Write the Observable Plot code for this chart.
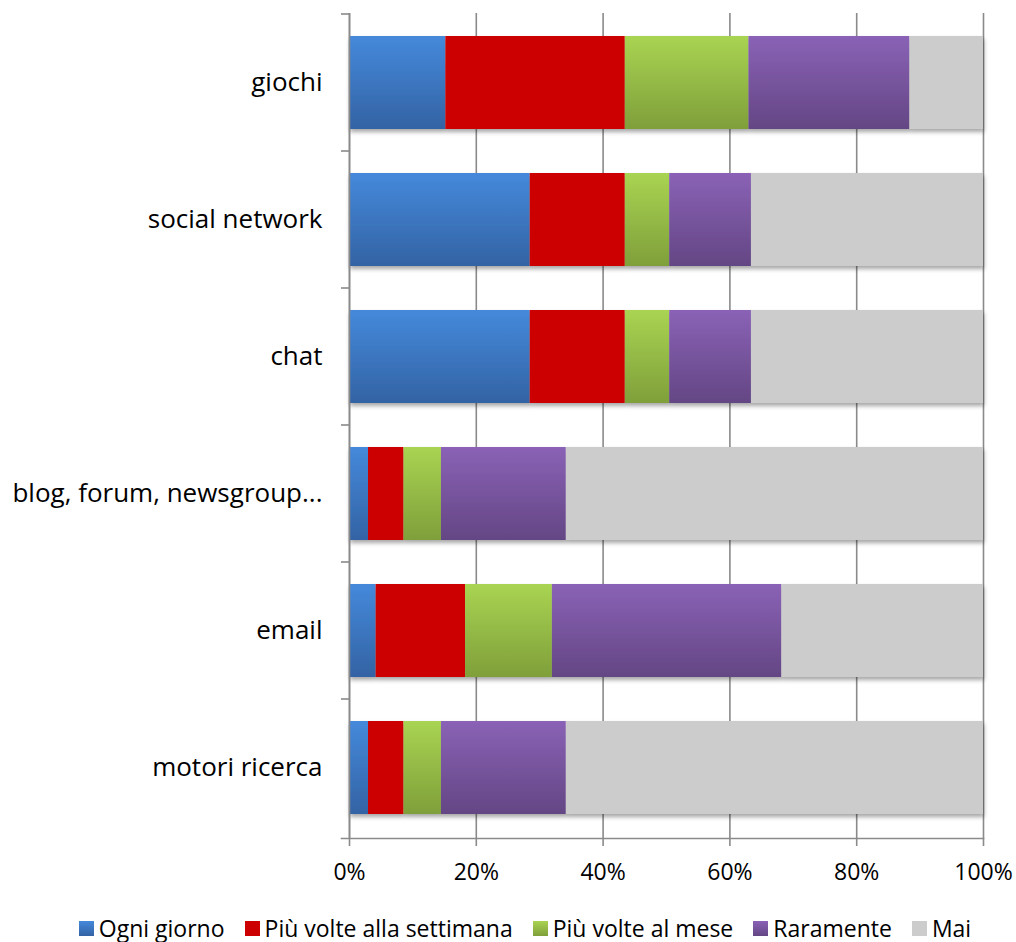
<!DOCTYPE html>
<html>
<head>
<meta charset="utf-8">
<script src="https://cdn.jsdelivr.net/npm/d3@7"></script>
<script src="https://cdn.jsdelivr.net/npm/@observablehq/plot@0.6"></script>
<style>
  html, body { margin: 0; padding: 0; background: #fff; overflow: hidden; }
  body { width: 1016px; height: 942px; font-family: "Open Sans", sans-serif; }
  #legend { display: flex; justify-content: center; align-items: center; height: 30px; margin-top: 8px; padding-left: 34px; font-size: 23px; color: #000; }
  .item { display: flex; align-items: center; margin-right: 20px; white-space: nowrap; }
  .item:last-child { margin-right: 0; }
  .sw { width: 15px; height: 15px; margin-right: 5px; }
</style>
</head>
<body>
<div id="chart"></div>
<div id="legend"></div>
<script>
const categories = ["giochi", "social network", "chat", "blog, forum, newsgroup...", "email", "motori ricerca"];
const series = ["Ogni giorno", "Più volte alla settimana", "Più volte al mese", "Raramente", "Mai"];
const ogniGiorno        = [15.2, 28.5, 28.5,  3.0,  4.2,  3.0];
const piuVolteSettimana = [28.3, 15.0, 15.0,  5.6, 14.1,  5.6];
const piuVolteMese      = [19.5,  7.0,  7.0,  5.9, 13.7,  5.9];
const raramente         = [25.4, 12.9, 12.9, 19.7, 36.2, 19.7];
const mai               = [11.6, 36.6, 36.6, 65.8, 31.8, 65.8];
const xTicks = [0, 20, 40, 60, 80, 100];

const seriesValues = [ogniGiorno, piuVolteSettimana, piuVolteMese, raramente, mai];
const rows = [];
categories.forEach((c, i) => {
  series.forEach((s, j) => rows.push({category: c, series: s, value: seriesValues[j][i]}));
});

const gradients = [
  {id: "g-blue", top: "#4589db", bottom: "#3363a4"},
  {id: "g-green", top: "#a9d452", bottom: "#7f9f3a"},
  {id: "g-purple", top: "#8a62b6", bottom: "#644684"}
];
const fills = ["url(#g-blue)", "#cc0000", "url(#g-green)", "url(#g-purple)", "#cccccc"];
const legendFills = [
  "linear-gradient(#4589db, #3363a4)", "#cc0000",
  "linear-gradient(#a9d452, #7f9f3a)", "linear-gradient(#8a62b6, #644684)", "#cccccc"
];

const axisGray = "#8a8a8a";
const marginLeft = 349;

const plot = Plot.plot({
  width: 1016,
  height: 905,
  marginTop: 13,
  marginBottom: 67,
  marginLeft: marginLeft,
  marginRight: 33,
  style: {fontFamily: "Open Sans, sans-serif", color: "#000", background: "#fff"},
  x: {domain: [0, 100], label: null},
  y: {domain: categories, paddingInner: 0.32, paddingOuter: 0.16, label: null},
  color: {domain: series, range: fills},
  marks: [
    Plot.gridX(xTicks, {stroke: axisGray, strokeOpacity: 1, strokeWidth: 1.6}),
    Plot.barX(rows, Plot.stackX({x: "value", y: "category", fill: "series"})),
    Plot.ruleX([0], {stroke: axisGray, strokeWidth: 1.6}),
    Plot.frame({anchor: "bottom", stroke: axisGray, strokeWidth: 1.6, insetLeft: -8}),
    Plot.axisX(xTicks, {tickFormat: d => d + "%", tickSize: 8, tickPadding: 17, fontSize: 23, stroke: axisGray, strokeWidth: 1.6, label: null}),
    Plot.axisY({tickSize: 0, tickPadding: 27, fontSize: 26, label: null})
  ]
});

const svg = d3.select(plot);
const defs = svg.insert("defs", ":first-child");
gradients.forEach(g => {
  const lg = defs.append("linearGradient").attr("id", g.id)
    .attr("x1", 0).attr("y1", 0).attr("x2", 0).attr("y2", 1);
  lg.append("stop").attr("offset", "0%").attr("stop-color", g.top);
  lg.append("stop").attr("offset", "100%").attr("stop-color", g.bottom);
});
const f = defs.append("filter").attr("id", "shadow")
  .attr("x", "-5%").attr("y", "-5%").attr("width", "115%").attr("height", "125%");
f.append("feDropShadow").attr("dx", 1).attr("dy", 3).attr("stdDeviation", 2.2)
  .attr("flood-color", "#000").attr("flood-opacity", 0.35);
svg.selectAll('g[aria-label="bar"]').attr("filter", "url(#shadow)");

// y-axis boundary ticks derived from the band scale (bottom one is the x-axis line)
const ys = plot.scale("y");
const gap = ys.step - ys.bandwidth;
const bounds = categories.map(c => ys.apply(c) - gap / 2);
const tg = svg.append("g");
bounds.forEach(b => {
  tg.append("line").attr("x1", marginLeft - 8).attr("x2", marginLeft)
    .attr("y1", b).attr("y2", b).attr("stroke", axisGray).attr("stroke-width", 1.6);
});

document.getElementById("chart").appendChild(plot);

const legend = document.getElementById("legend");
series.forEach((s, i) => {
  const it = document.createElement("div");
  it.className = "item";
  const sw = document.createElement("div");
  sw.className = "sw";
  sw.style.background = legendFills[i];
  const t = document.createElement("span");
  t.textContent = s;
  it.appendChild(sw); it.appendChild(t);
  legend.appendChild(it);
});
</script>
</body>
</html>
